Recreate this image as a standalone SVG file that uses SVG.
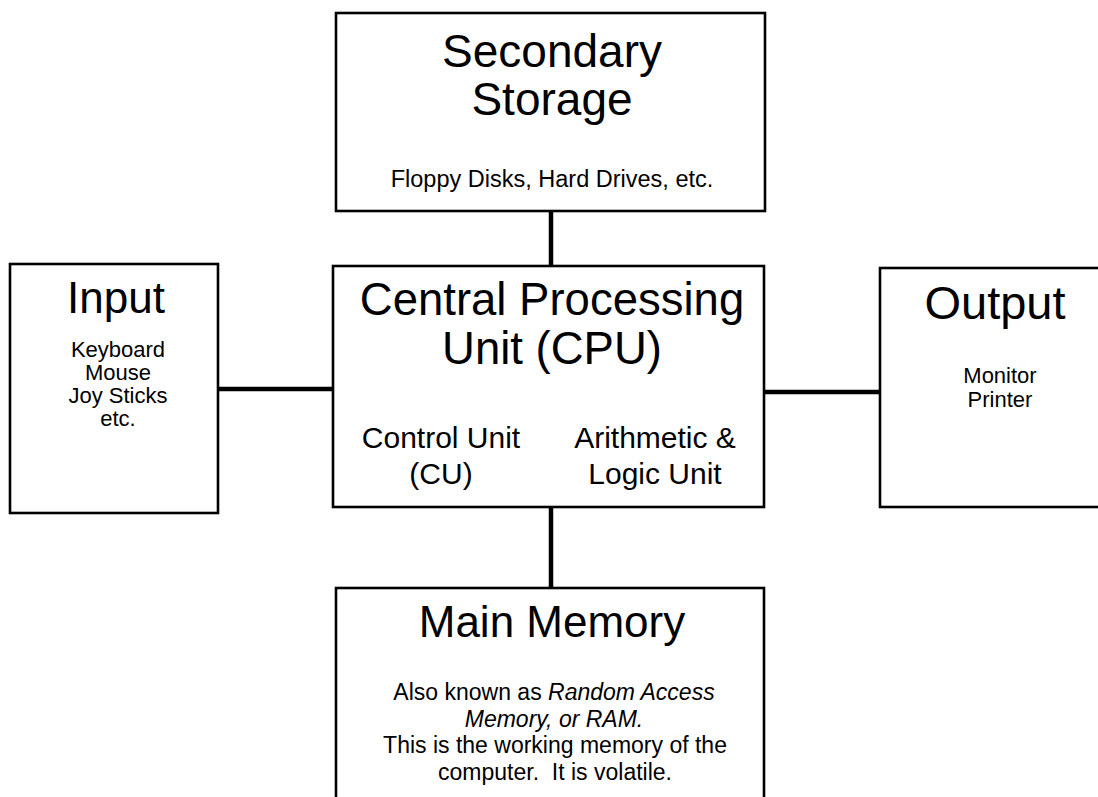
<svg xmlns="http://www.w3.org/2000/svg" width="1098" height="797" viewBox="0 0 1098 797">
<style>
.box{fill:#fff;stroke:#000;stroke-width:2.6}
.con{stroke:#000;stroke-width:4.5;fill:none}
text{font-family:"Liberation Sans",Arial,sans-serif;fill:#000;text-anchor:middle}
.t{font-size:46px}
.s{font-size:23px}
.m{font-size:30px}
.i{font-style:italic}
</style>
<rect width="1098" height="797" fill="#fff"/>
<g id="connectors">
<line class="con" x1="551" y1="211" x2="551" y2="266"/>
<line class="con" x1="218" y1="389" x2="333" y2="389"/>
<line class="con" x1="764" y1="392" x2="880" y2="392"/>
<line class="con" x1="551" y1="507" x2="551" y2="588"/>
</g>
<g id="secondary">
<rect class="box" x="336" y="13" width="429" height="198"/>
<text class="t" x="552" y="67">Secondary</text>
<text class="t" x="552" y="115">Storage</text>
<text class="s" x="552" y="187" style="font-size:23.5px">Floppy Disks, Hard Drives, etc.</text>
</g>
<g id="input">
<rect class="box" x="10" y="264" width="208" height="249"/>
<text class="t" x="116" y="313" style="font-size:44px">Input</text>
<text class="s" x="118" y="357" style="font-size:22px">Keyboard</text>
<text class="s" x="118" y="380" style="font-size:22px">Mouse</text>
<text class="s" x="118" y="403" style="font-size:22px">Joy Sticks</text>
<text class="s" x="118" y="426" style="font-size:22px">etc.</text>
</g>
<g id="cpu">
<rect class="box" x="333" y="266" width="431" height="241"/>
<text class="t" x="552" y="315" style="font-size:45.5px">Central Processing</text>
<text class="t" x="552" y="364" style="font-size:45.5px">Unit (CPU)</text>
<text class="m" x="441" y="448">Control Unit</text>
<text class="m" x="441" y="484">(CU)</text>
<text class="m" x="655" y="448">Arithmetic &amp;</text>
<text class="m" x="655" y="484">Logic Unit</text>
</g>
<g id="output">
<rect class="box" x="880" y="268" width="240" height="239"/>
<text class="t" x="995" y="319" style="font-size:47px">Output</text>
<text class="s" x="1000" y="383" style="font-size:22px">Monitor</text>
<text class="s" x="1000" y="407" style="font-size:22px">Printer</text>
</g>
<g id="main-memory">
<rect class="box" x="336" y="588" width="428" height="230"/>
<text class="t" x="552" y="637" style="font-size:44px">Main Memory</text>
<text class="s" x="554" y="700">Also known as <tspan class="i">Random Access</tspan></text>
<text class="s i" x="554" y="727">Memory, or RAM.</text>
<text class="s" x="555" y="753">This is the working memory of the</text>
<text class="s" x="555" y="780" xml:space="preserve">computer.  It is volatile.</text>
</g>
</svg>
